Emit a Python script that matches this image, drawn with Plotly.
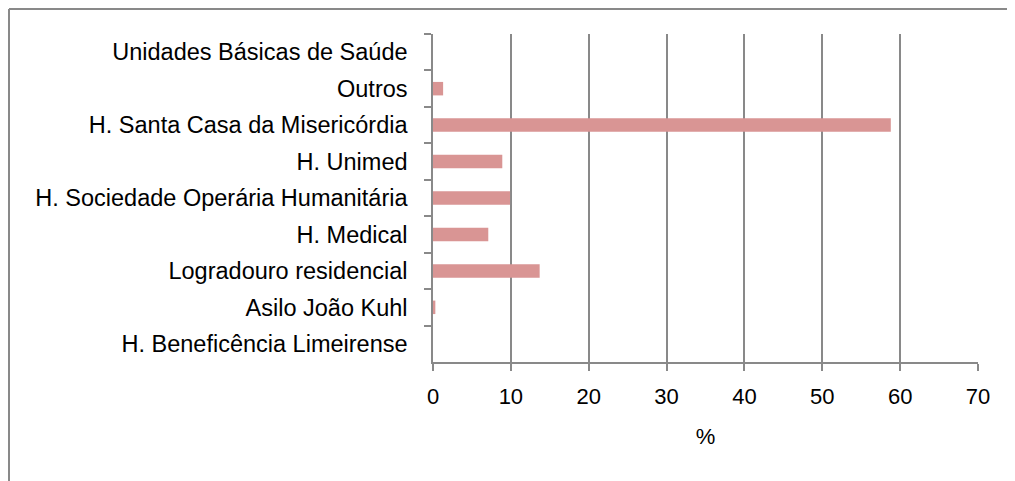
import plotly.graph_objects as go

categories = [
    "Unidades Básicas de Saúde",
    "Outros",
    "H. Santa Casa da Misericórdia",
    "H. Unimed",
    "H. Sociedade Operária Humanitária",
    "H. Medical",
    "Logradouro residencial",
    "Asilo João Kuhl",
    "H. Beneficência Limeirense",
]
percent = [0.0, 1.3, 58.8, 8.9, 9.9, 7.1, 13.7, 0.3, 0.0]
x_ticks = [0, 10, 20, 30, 40, 50, 60, 70]

FONT = "Liberation Sans, Arial, sans-serif"
GRAY = "#898989"

# page body adds an 8px offset, so the figure is a bit smaller than the window
W, H = 1007, 473
L, T = 425, 26
PW, PH = 545, 328

fig = go.Figure()
fig.add_trace(
    go.Bar(
        x=percent,
        y=categories,
        orientation="h",
        width=0.37,
        marker=dict(color="#D99594", line=dict(width=0)),
        showlegend=False,
    )
)

# chart-area border: only the top and left edges are inside the picture
top = (T + PH - 1) / PH
left = (1 - L) / PW
for x0, x1, y0, y1 in [
    (left, (W + 20 - L) / PW, top, top),
    (left, left, top, (T + PH - H - 20) / PH),
]:
    fig.add_shape(
        type="line", xref="paper", yref="paper",
        x0=x0, x1=x1, y0=y0, y1=y1,
        line=dict(color=GRAY, width=2), layer="below",
    )

fig.update_layout(
    width=W,
    height=H,
    margin=dict(l=L, r=W - L - PW, t=T, b=H - T - PH),
    paper_bgcolor="white",
    plot_bgcolor="white",
    font=dict(family=FONT, size=23.5, color="black"),
    bargap=0.63,
)
fig.update_xaxes(
    range=[0, 70],
    tickvals=x_ticks,
    tickfont=dict(size=22),
    showgrid=True,
    gridcolor=GRAY,
    gridwidth=1.5,
    zeroline=False,
    showline=True,
    linecolor=GRAY,
    linewidth=1.5,
    ticks="outside",
    ticklen=7,
    tickwidth=1.5,
    tickcolor=GRAY,
    ticklabelstandoff=7,
    title=dict(text="%", standoff=20, font=dict(size=22)),
)
fig.update_yaxes(
    autorange="reversed",
    showgrid=False,
    showline=True,
    linecolor=GRAY,
    linewidth=1.5,
    ticks="outside",
    tickson="boundaries",
    ticklen=7,
    tickwidth=1.5,
    tickcolor=GRAY,
    ticklabelstandoff=19,
)

# no scrollbars: the figure just runs off the window edge like the original
fig.write_html("out.html", post_script="document.body.style.overflow = 'hidden';")
